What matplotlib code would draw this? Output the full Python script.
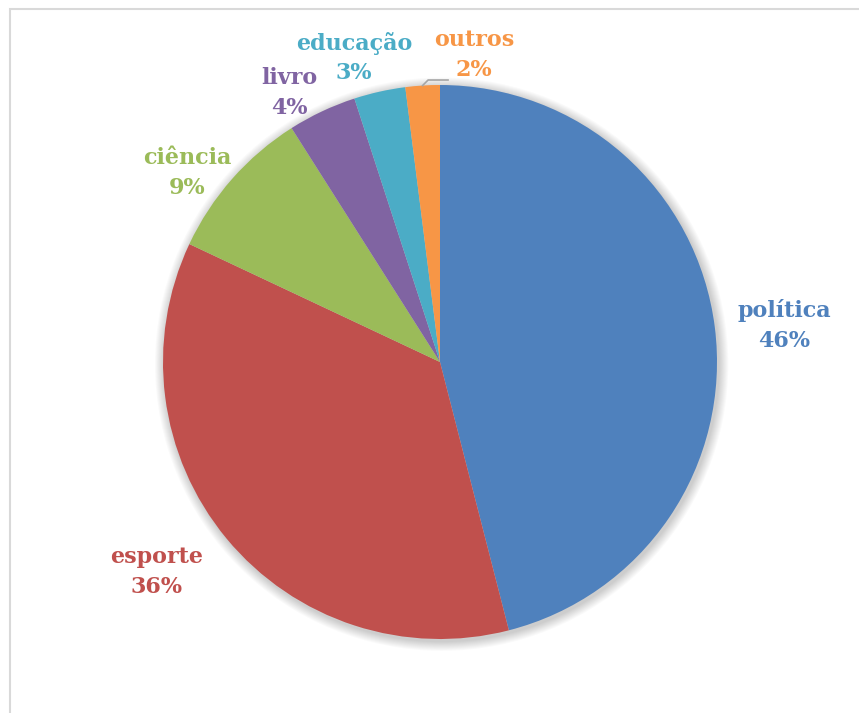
import numpy as np
import matplotlib
matplotlib.use("Agg")
import matplotlib.pyplot as plt
from matplotlib.patches import Circle, Rectangle

# data
labels = ["política", "esporte", "ciência", "livro", "educação", "outros"]
values = [46, 36, 9, 4, 3, 2]
colors = ["#4F81BD", "#C0504D", "#9BBB59", "#8064A2", "#4BACC6", "#F79646"]

# label centres (data units, pie radius = 1)
label_pos = [(1.242, 0.130), (-1.022, -0.758), (-0.913, 0.682),
             (-0.545, 0.971), (-0.310, 1.097), (0.123, 1.108)]

W, H = 859, 713
cx, cy, R = 440, 362, 277
half_gap = 15 / R  # half the distance between the two label lines

fig = plt.figure(figsize=(W / 100, H / 100), dpi=100)
ax = fig.add_axes([0, 0, 1, 1])

# soft shadow round the pie
for i in range(10):
    ax.add_patch(Circle((0.006, -0.008), 1.0 + 0.0035 * (10 - i), color="black",
                        alpha=0.018, lw=0, zorder=1))

wedges, _ = ax.pie(values, colors=colors, startangle=90, counterclock=False,
                   radius=1.0, wedgeprops=dict(linewidth=0), frame=False)
for w in wedges:
    w.set_zorder(2)

for lab, val, col, (x, y) in zip(labels, values, colors, label_pos):
    kw = dict(color=col, ha="center", va="center", fontsize=16,
              fontweight="bold", family="DejaVu Serif", zorder=3)
    ax.text(x, y + half_gap, lab, **kw)
    ax.text(x, y - half_gap, f"{val}%", **kw)

# leader line for "outros"
ang = np.deg2rad(90 + 360 * values[-1] / 100 / 2)
x0, y0 = np.cos(ang), np.sin(ang)
ax.plot([x0, -0.043, 0.029], [y0, 1.018, 1.018], color="#a6a6a6", lw=1.2, zorder=3)

# chart area border
fig.add_artist(Rectangle((9.5 / W, -0.1), 1.2, 1 - 8.5 / H + 0.1, transform=fig.transFigure,
                         fill=False, edgecolor="#d9d9d9", lw=1.5))

ax.set_aspect("auto")
ax.set_xlim(-cx / R, (W - cx) / R)
ax.set_ylim(-(H - cy) / R, cy / R)
ax.axis("off")
fig.savefig("out.png", dpi=100)
